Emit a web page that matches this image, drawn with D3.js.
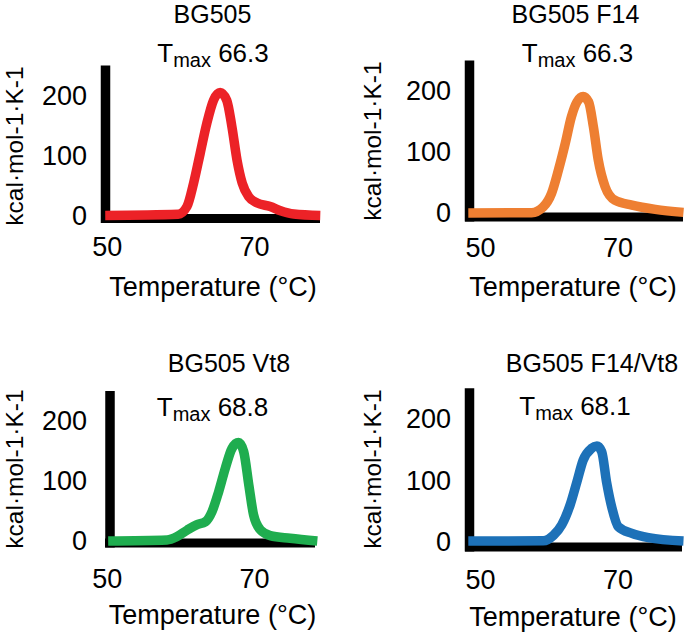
<!DOCTYPE html>
<html><head><meta charset="utf-8">
<script src="https://cdn.jsdelivr.net/npm/d3@7"></script>
<style>
html,body{margin:0;padding:0;background:#fff;}
svg{display:block;font-family:"Liberation Sans",Arial,Helvetica,sans-serif;}
</style></head><body>
<svg id="chart" width="685" height="634"></svg>
<script>
// ---------- data ----------
const titles = ["BG505", "BG505 F14", "BG505 Vt8", "BG505 F14/Vt8"];
const tmaxValues = ["66.3", "66.3", "68.8", "68.1"];
const xTicks = [50, 70];
const yTicks = [0, 100, 200];
const yMax = 250;
const xLabel = "Temperature (°C)";
const yLabel = "kcal·mol-1·K-1";
const colors = ["#ec2227", "#ee7f32", "#1fad4f", "#1d71b8"];

const bg505Temp = [49.8, 59.7, 60.9, 61.8, 62.7, 63.6, 64.5, 65.4, 66.3, 67.0, 67.7, 68.4, 69.3, 70.4, 72.2, 73.6, 75.4, 79.0];
const bg505Cp   = [0, 2, 15, 54, 104, 154, 192, 205, 192, 148, 92, 54, 31, 21, 15, 8, 2.5, 0];

const f14Temp = [48.3, 57.5, 59.2, 60.4, 61.4, 62.4, 63.3, 64.1, 65.0, 65.8, 66.5, 67.2, 68.2, 69.6, 72.1, 75.5, 79.6];
const f14Cp   = [0, 0.5, 10, 32, 70, 114, 158, 182, 191, 182, 141, 87, 43, 21, 13, 6, 1];

const vt8Temp = [50.2, 58.2, 59.5, 60.9, 62.2, 63.4, 64.3, 65.2, 66.1, 67.0, 67.9, 68.6, 69.3, 69.95, 70.9, 72.2, 74.9, 78.6];
const vt8Cp   = [0, 1.7, 7, 18, 27, 32, 49, 82, 121, 154, 164, 149, 93, 43, 18, 9, 4.5, 0];

const f14vt8Temp = [48.3, 59.2, 60.7, 61.9, 63.1, 64.1, 65.0, 66.2, 67.0, 67.7, 68.4, 69.2, 70.1, 72.1, 74.5, 79.6];
const f14vt8Cp   = [1.5, 2, 11, 28, 60, 98, 133, 152, 156, 147, 98, 55, 25, 14, 7, 1.5];

const seriesTemps = [bg505Temp, f14Temp, vt8Temp, f14vt8Temp];
const seriesCp = [bg505Cp, f14Cp, vt8Cp, f14vt8Cp];

// ---------- layout (pixel geometry per panel) ----------
const layout = [
  {x50:106.7, x70:254,   y0:215.5, y200:95.5, yBarX:105.5, xBarY:218.5, xBarX0:101, xBarX1:320,
   yTickRight:87, xTickBase:256, xLabelX:213, xLabelBase:296, yLabelX:22.5, yLabelY:146,
   titleX:212.5, titleBase:23, tmaxX:213, tmaxBase:62},
  {x50:480,   x70:617.5, y0:213,   y200:91,   yBarX:469.5, xBarY:217,   xBarX0:465, xBarX1:683,
   yTickRight:451, xTickBase:257, xLabelX:573, xLabelBase:296, yLabelX:381, yLabelY:141,
   titleX:575.5, titleBase:23, tmaxX:577.5, tmaxBase:62},
  {x50:106.7, x70:254,   y0:541,   y200:421,  yBarX:110,   xBarY:543,   xBarX0:105, xBarX1:315,
   yTickRight:87, xTickBase:588, xLabelX:212.5, xLabelBase:624, yLabelX:22.5, yLabelY:469,
   titleX:229, titleBase:372, tmaxX:212.5, tmaxBase:416},
  {x50:480,   x70:617.5, y0:542,   y200:419,  yBarX:469.5, xBarY:547,   xBarX0:465, xBarX1:682,
   yTickRight:451, xTickBase:589, xLabelX:573, xLabelBase:626, yLabelX:381, yLabelY:469,
   titleX:592, titleBase:372, tmaxX:575, tmaxBase:415}
];

const FS = 27;
const svg = d3.select("#chart");

layout.forEach((L, i) => {
  const x = d3.scaleLinear().domain([50, 70]).range([L.x50, L.x70]);
  const y = d3.scaleLinear().domain([0, 200]).range([L.y0, L.y200]);
  const g = svg.append("g");

  // thick axis bars
  g.append("line")
    .attr("x1", L.yBarX).attr("x2", L.yBarX)
    .attr("y1", y(yMax)).attr("y2", L.xBarY + 4.5)
    .attr("stroke", "#000").attr("stroke-width", 9.5);
  g.append("line")
    .attr("x1", L.xBarX0).attr("x2", L.xBarX1)
    .attr("y1", L.xBarY).attr("y2", L.xBarY)
    .attr("stroke", "#000").attr("stroke-width", 9);

  // y tick labels
  const ya = g.append("g").attr("transform", `translate(${L.yTickRight},0)`)
    .call(d3.axisLeft(y).tickValues(yTicks).tickSize(0).tickPadding(0));
  ya.select(".domain").remove();
  ya.attr("font-size", FS).attr("font-family", null);
  ya.selectAll("text").attr("fill", "#000");

  // x tick labels
  const xa = g.append("g").attr("transform", `translate(0,${L.xTickBase})`)
    .call(d3.axisBottom(x).tickValues(xTicks).tickSize(0).tickPadding(0));
  xa.select(".domain").remove();
  xa.attr("font-size", FS).attr("font-family", null);
  xa.selectAll("text").attr("y", 0).attr("dy", 0).attr("fill", "#000");

  // curve
  const data = seriesTemps[i].map((t, k) => [t, seriesCp[i][k]]);
  g.append("path").datum(data)
    .attr("fill", "none")
    .attr("stroke", colors[i])
    .attr("stroke-width", 9.5)
    .attr("stroke-linejoin", "round")
    .attr("stroke-linecap", "butt")
    .attr("d", d3.line().x(d => x(d[0])).y(d => y(d[1])).curve(d3.curveMonotoneX));

  // axis labels
  g.append("text").attr("x", L.xLabelX).attr("y", L.xLabelBase)
    .attr("text-anchor", "middle").attr("font-size", FS).text(xLabel);
  g.append("text")
    .attr("transform", `translate(${L.yLabelX},${L.yLabelY}) rotate(-90)`)
    .attr("text-anchor", "middle").attr("font-size", 24.5).text(yLabel);

  // title
  g.append("text").attr("x", L.titleX).attr("y", L.titleBase)
    .attr("text-anchor", "middle").attr("font-size", 25).text(titles[i]);

  // Tmax
  const t = g.append("text").attr("x", L.tmaxX).attr("y", L.tmaxBase)
    .attr("text-anchor", "middle").attr("font-size", 26);
  t.append("tspan").text("T");
  t.append("tspan").attr("font-size", 20).attr("dy", 5).text("max");
  t.append("tspan").attr("dy", -5).text(" " + tmaxValues[i]);
});
</script>
</body></html>
